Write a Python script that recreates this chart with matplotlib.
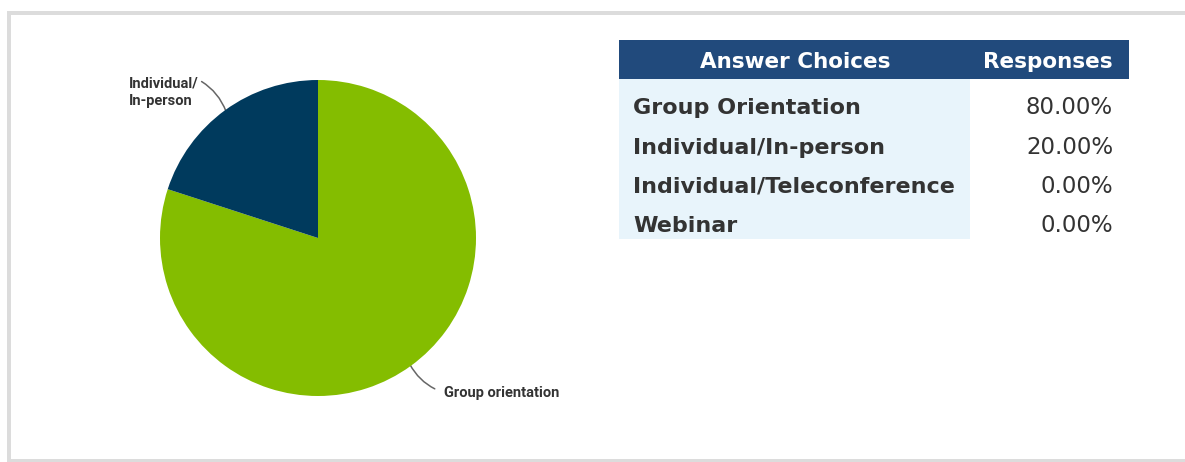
import numpy as np
import matplotlib.pyplot as plt
from matplotlib.patches import Rectangle

# data
pie_labels = ['Group orientation', 'Individual/\nIn-person']
pie_values = [80, 20]
pie_colors = ['#84bd00', '#003a5d']

choices = ['Group Orientation', 'Individual/In-person',
           'Individual/Teleconference', 'Webinar']
responses = [80.00, 20.00, 0.00, 0.00]
headers = ['Answer Choices', 'Responses']

W, H = 1185, 462
fig = plt.figure(figsize=(W / 100, H / 100), dpi=100)

# background axes in pixel coordinates
bg = fig.add_axes([0, 0, 1, 1])
bg.set_xlim(0, W)
bg.set_ylim(H, 0)
bg.axis('off')

# grey frame
frame_col = '#dcdcdc'
bg.add_patch(Rectangle((7, 11), 4, 451, color=frame_col, lw=0))
bg.add_patch(Rectangle((7, 11), W, 4, color=frame_col, lw=0))
bg.add_patch(Rectangle((7, 459), W, 4, color=frame_col, lw=0))

# pie
cx, cy, r = 318, 238, 158
pax = fig.add_axes([(cx - r) / W, (H - cy - r) / H, 2 * r / W, 2 * r / H])
wedges, _ = pax.pie(pie_values, colors=pie_colors, startangle=90,
                    counterclock=False, radius=1,
                    wedgeprops=dict(linewidth=0))
pax.set_xlim(-1, 1)
pax.set_ylim(-1, 1)
pax.set_aspect('equal')
pax.axis('off')

lab_font = dict(family='Roboto', fontsize=10.5, fontweight='bold', color='#333333')
for w, lab in zip(wedges, pie_labels):
    ang = np.deg2rad((w.theta1 + w.theta2) / 2)
    px, py = cx + r * np.cos(ang) * 0.99, cy - r * np.sin(ang) * 0.99
    if np.cos(ang) > 0:
        tx, ty = px + 34, py + 28
        bg.annotate(lab, xy=(px, py), xytext=(tx, ty), ha='left', va='center',
                    arrowprops=dict(arrowstyle='-', color='#666666', lw=1.1,
                                    shrinkA=5, shrinkB=0, relpos=(0, 0.5),
                                    connectionstyle='arc3,rad=-0.2'),
                    **lab_font)
    else:
        tx, ty = px - 97, py - 19
        bg.annotate(lab, xy=(px, py), xytext=(tx, ty), ha='left', va='center',
                    linespacing=1.35,
                    arrowprops=dict(arrowstyle='-', color='#666666', lw=1.1,
                                    shrinkA=0, shrinkB=0, relpos=(0.95, 0.95),
                                    connectionstyle='arc3,rad=-0.2'),
                    **lab_font)

# table
tx0, tx1, tsplit = 619, 1129, 970
head_top, head_bot = 40, 79
row_h = 39.5
bg.add_patch(Rectangle((tx0, head_top), tx1 - tx0, head_bot - head_top,
                       color='#214a7c', lw=0))
bg.add_patch(Rectangle((tx0, head_bot), tsplit - tx0, 160,
                       color='#e8f4fb', lw=0))
tfont = dict(family='DejaVu Sans', fontweight='bold')
bg.text(795, 68, headers[0], ha='center', va='baseline', color='white',
        fontsize=15.5, **tfont)
bg.text(1113, 68, headers[1], ha='right', va='baseline', color='white',
        fontsize=15.5, **tfont)
for i, (c, v) in enumerate(zip(choices, responses)):
    y = 114 + i * row_h
    bg.text(633, y, c, ha='left', va='baseline', color='#333333',
            fontsize=16, **tfont)
    bg.text(1113, y, f'{v:.2f}%', ha='right', va='baseline', color='#333333',
            fontsize=16.5, family='DejaVu Sans')

fig.savefig('out.png', dpi=100)
